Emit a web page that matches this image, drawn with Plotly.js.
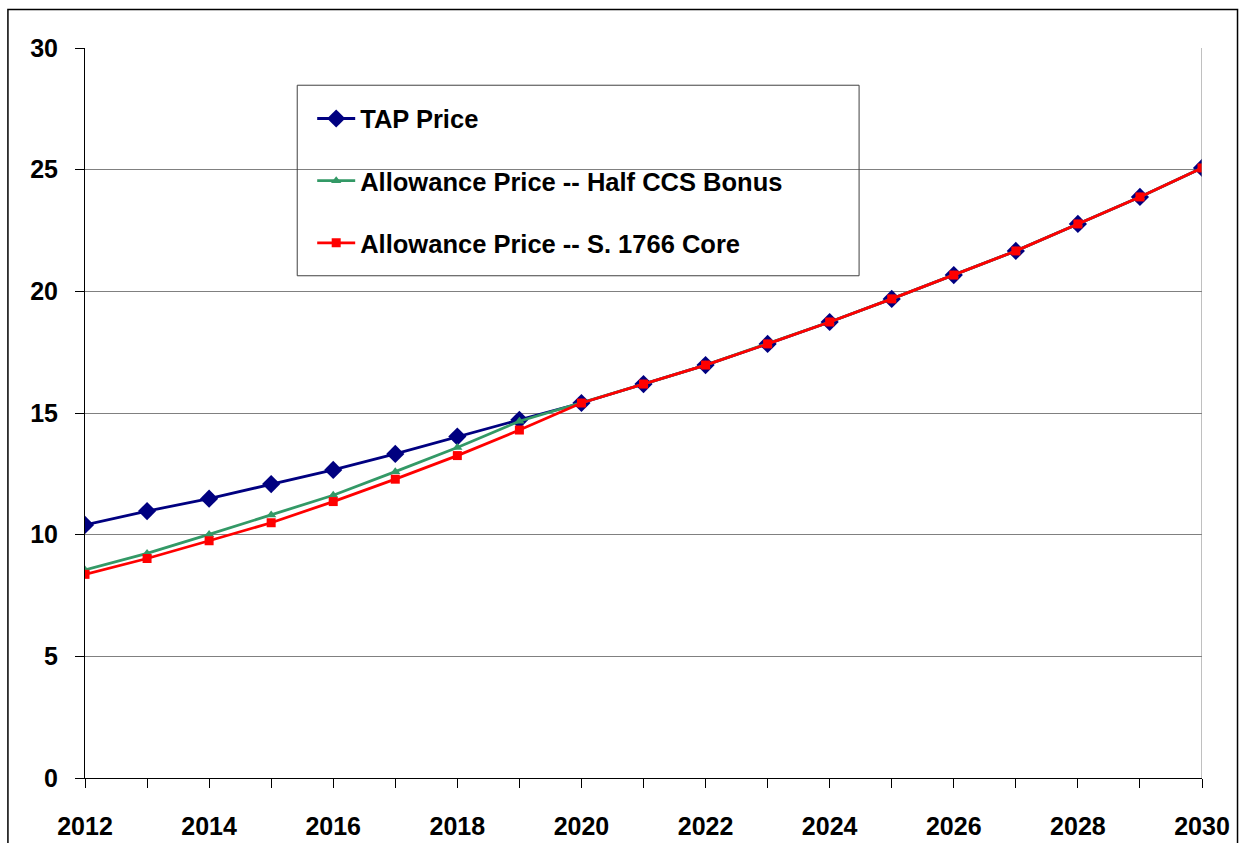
<!DOCTYPE html>
<html>
<head>
<meta charset="utf-8">
<script src="https://cdn.plot.ly/plotly-3.0.1.min.js"></script>
<style>html,body{margin:0;padding:0;background:#fff;}#chart{width:1239px;height:843px;}</style>
</head>
<body>
<div id="chart"></div>
<script>
const years = [2012,2013,2014,2015,2016,2017,2018,2019,2020,2021,2022,2023,2024,2025,2026,2027,2028,2029,2030];
const tapPrice = [10.40,10.97,11.48,12.08,12.66,13.32,14.03,14.72,15.41,16.19,16.97,17.84,18.74,19.69,20.67,21.66,22.77,23.88,25.07];
const halfCcsBonus = [8.55,9.23,10.01,10.81,11.62,12.59,13.58,14.66,15.41,16.19,16.97,17.84,18.74,19.69,20.67,21.66,22.77,23.88,25.07];
const s1766Core = [8.37,9.02,9.75,10.49,11.36,12.28,13.25,14.30,15.41,16.19,16.97,17.84,18.74,19.69,20.67,21.66,22.77,23.88,25.07];
const seriesNames = ["TAP Price","Allowance Price -- Half CCS Bonus","Allowance Price -- S. 1766 Core"];
const xTickVals = [2012,2014,2016,2018,2020,2022,2024,2026,2028,2030];
const yTickVals = [0,5,10,15,20,25,30];

const FONT = '"Liberation Sans", Arial, sans-serif';

const traces = [
  {x: years, y: tapPrice, name: seriesNames[0], legendgroup:'a', mode:'lines+markers',
   line:{color:'#000080', width:2.8}, marker:{symbol:'diamond', size:14, color:'#000080'}},
  {x: years, y: halfCcsBonus, name: seriesNames[1], legendgroup:'b', mode:'lines+markers',
   line:{color:'#339966', width:2.8}, marker:{symbol:'triangle-up', size:9, color:'#339966'}},
  {x: years, y: s1766Core, name: seriesNames[2], legendgroup:'c', mode:'lines+markers',
   line:{color:'#FF0000', width:2.8}, marker:{symbol:'square', size:9, color:'#FF0000'}}
];

const layout = {
  width:1239, height:843,
  margin:{l:85, r:37, t:48, b:65},
  paper_bgcolor:'#fff', plot_bgcolor:'#fff',
  font:{family:FONT, size:25, color:'#000', weight:'bold'},
  showlegend:true,
  legend:{x:0.2034, y:0.935, xanchor:'left', yanchor:'top', bgcolor:'rgba(0,0,0,0)',
    borderwidth:0, font:{family:FONT, size:25.5, color:'#000', weight:'bold'},
    traceorder:'grouped', tracegroupgap:26, itemwidth:38},
  xaxis:{range:[2012,2030], tickvals:xTickVals, ticktext:xTickVals.map(String),
    showgrid:false, zeroline:false, showline:true, linecolor:'#000', linewidth:1,
    ticks:'outside', ticklen:9, tickcolor:'#000', tickwidth:1,
    ticklabelstandoff:17,
    tickfont:{family:FONT, size:25, color:'#000', weight:'bold'},
    minor:{ticks:'outside', ticklen:9, tickcolor:'#000', dtick:1, showgrid:false}},
  yaxis:{range:[0,30], tickvals:yTickVals, showgrid:true, gridcolor:'#808080', gridwidth:1,
    zeroline:false, showline:true, linecolor:'#000', linewidth:1,
    ticks:'outside', ticklen:9, tickcolor:'#000', tickwidth:1, ticklabelstandoff:12,
    tickfont:{family:FONT, size:25, color:'#000', weight:'bold'}},
  shapes:[
    {type:'line', xref:'x', yref:'paper', x0:2030, x1:2030, y0:0, y1:1, line:{color:'#808080', width:1}},
    {type:'rect', xref:'paper', yref:'paper', x0:0.19, x1:0.693, y0:0.688, y1:0.949, line:{color:'#404040', width:1}, fillcolor:'rgba(0,0,0,0)'},
    {type:'rect', xref:'paper', yref:'paper', x0:-0.0690, x1:1.0318, y0:-0.2, y1:1.0527, line:{color:'#000', width:1.5}, fillcolor:'rgba(0,0,0,0)'}
  ]
};

Plotly.newPlot('chart', traces, layout, {displayModeBar:false, staticPlot:true});
</script>
</body>
</html>
